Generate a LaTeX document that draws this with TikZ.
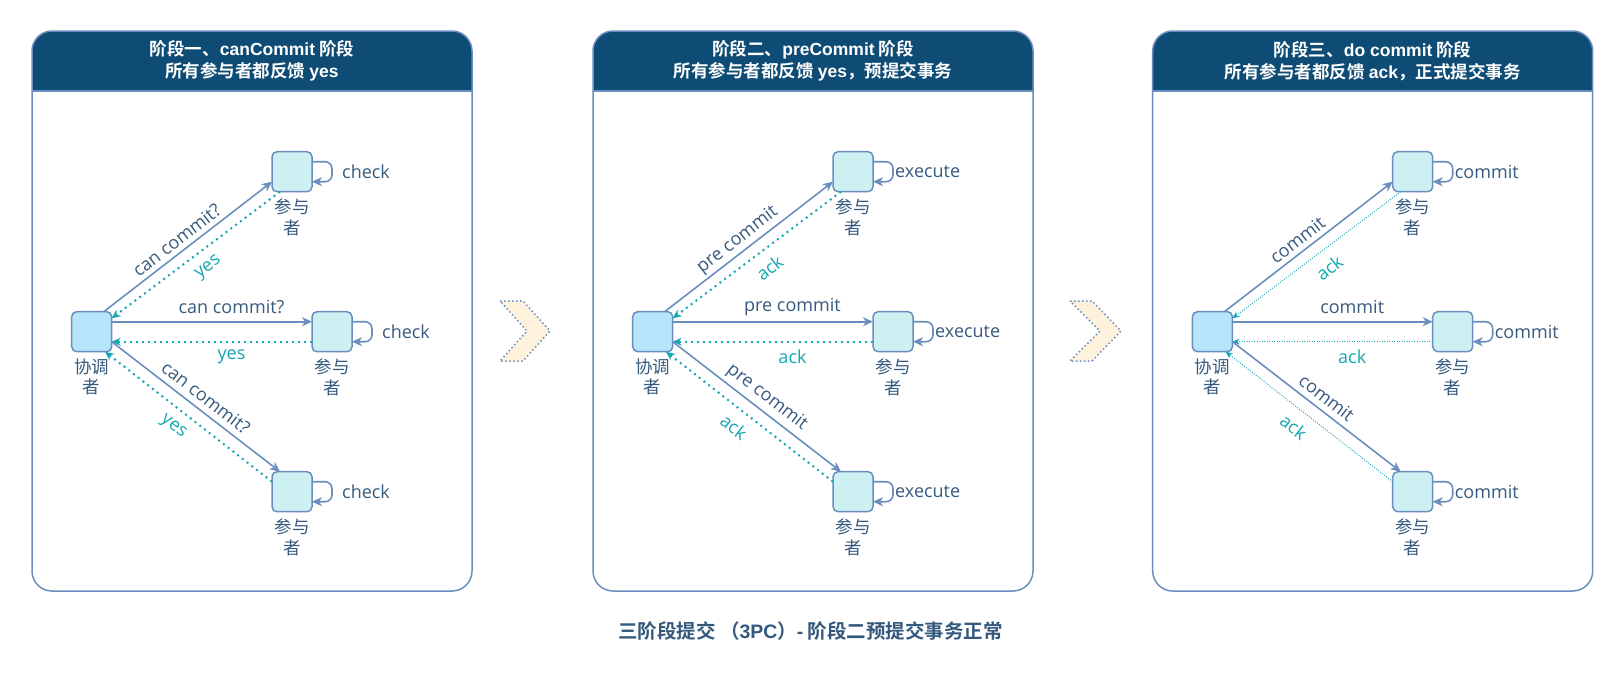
\documentclass[tikz,border=0pt]{standalone}
\usepackage{fontspec}
\setmainfont{Open Sans}
\newfontfamily\cjk{Noto Sans CJK SC}[BoldFont={Noto Sans CJK SC Bold}]
\newfontfamily\arialf{Liberation Sans}
\usetikzlibrary{arrows.meta,calc}
\definecolor{hdr}{HTML}{0F4C75}
\definecolor{edgec}{HTML}{6C8EBF}
\definecolor{ackc}{HTML}{12A7B2}
\definecolor{lblc}{HTML}{375A7F}
\definecolor{cfill}{HTML}{B5E4FB}
\definecolor{pfill}{HTML}{CDF0F3}
\definecolor{chevc}{HTML}{FFF2DC}
\definecolor{capc}{HTML}{34597C}
\newcommand\lat[1]{{\arialf\bfseries #1}}
\tikzset{
  coordbox/.style={draw=edgec, fill=cfill, line width=1.5pt, rounded corners=5pt, minimum size=40pt, inner sep=0pt, outer sep=0pt},
  partbox/.style={draw=edgec, fill=pfill, line width=1.5pt, rounded corners=5pt, minimum size=40pt, inner sep=0pt, outer sep=0pt},
  fwd/.style={draw=edgec, line width=1.6pt, -{Stealth[length=10pt,width=9pt,inset=3pt]}},
  backthick/.style={draw=ackc, line width=2pt, dash pattern=on 2pt off 4pt, -{Stealth[length=9pt,width=8pt,inset=3pt]}},
  backthin/.style={draw=ackc, line width=0.9pt, dash pattern=on 1pt off 1.5pt, -{Stealth[length=7pt,width=6pt,inset=2pt]}},
  lbl/.style={text=lblc, font=\fontsize{18}{20}\selectfont, inner sep=0pt},
  acklbl/.style={text=ackc, font=\fontsize{18}{20}\selectfont, inner sep=0pt},
  cjklbl/.style={text=lblc, font=\cjk\fontsize{17.5}{20.5}\selectfont, align=center, inner sep=0pt},
  titletext/.style={text=white, font=\cjk\bfseries\fontsize{17.5}{22}\selectfont, align=center, inner sep=0pt},
  chevron/.style={draw=edgec, fill=chevc, line width=1.5pt, dash pattern=on 1.5pt off 2.5pt},
}
% #1 prefix, #2 xshift, #3 title1, #4 title2, #5 forward label, #6 back label, #7 loop label, #8 loop text gap, #9 back style
\newcommand\phasepanel[9]{%
\begin{scope}[xshift=#2]
  \begin{scope}
    \clip[rounded corners=20pt] (32,31) rectangle (472,591);
    \fill[hdr] (32,31) rectangle (472,91);
  \end{scope}
  \draw[edgec, line width=1.5pt, rounded corners=20pt] (32,31) rectangle (472,591);
  \draw[edgec, line width=1.5pt] (32,91) -- (472,91);
  \node[titletext] (#1title) at (252,61.2) {#3\\#4};
  \node[coordbox] (#1c) at (91.7,331.7) {};
  \node[partbox] (#1pa) at (292,171.7) {};
  \node[partbox] (#1pb) at (332,331.7) {};
  \node[partbox] (#1pc) at (292,491.7) {};
  \node[cjklbl] (#1cl) at ($(#1c.south)+(0,25)$) {协调\\者};
  \node[cjklbl] (#1pal) at ($(#1pa.south)+(0,25.5)$) {参与\\者};
  \node[cjklbl] (#1pbl) at ($(#1pb.south)+(0,25.5)$) {参与\\者};
  \node[cjklbl] (#1pcl) at ($(#1pc.south)+(0,25.5)$) {参与\\者};
  % top
  \draw[fwd] ($(#1c.north east)+(-8,0)$) -- ($(#1pa.west)+(0,10)$);
  \draw[#9] ($(#1pa.south west)+(8,0)$) -- ($(#1c.east)+(0,-13.4)$);
  % middle
  \draw[fwd] ($(#1c.east)+(0,-10)$) -- ($(#1pb.west)+(0,-10)$);
  \draw[#9] ($(#1pb.west)+(0,10)$) -- ($(#1c.east)+(0,10)$);
  % bottom
  \draw[fwd] ($(#1c.east)+(0,10)$) -- ($(#1pc.north west)+(8,0)$);
  \draw[#9] ($(#1pc.west)+(0,-10)$) -- ($(#1c.south)+(13.3,0)$);
  % labels
  \node[lbl, rotate=37.7] (#1la) at (176.7,240) {#5};
  \node[acklbl, rotate=37.7] (#1lba) at (208.7,268) {#6};
  \node[lbl] (#1lb) at (231.5,306.7) {#5};
  \node[acklbl] (#1lbb) at (231.5,356.7) {#6};
  \node[lbl, rotate=-37.7] (#1lc) at (206,397.5) {#5};
  \node[acklbl, rotate=-37.7] (#1lbc) at (173,427) {#6};
  % loops
  \foreach \p in {pa,pb,pc}{
    \draw[fwd, rounded corners=7pt] ($(#1\p.north east)+(0,10)$) -- ++(20,0) -- ++(0,20) -- ($(#1\p.north east)+(0,30)$);
    \node[lbl, anchor=west] (#1\p loop) at ($(#1\p.east)+(#8,0)$) {#7};
  }
\end{scope}}
\begin{document}
\begin{tikzpicture}[x=1pt,y=-1pt]
\useasboundingbox[fill=white] (0,0) rectangle (1622,681);
\phasepanel{a}{0pt}{阶段一、\lat{canCommit} 阶段}{所有参与者都反馈 \lat{yes}}{can commit?}{yes}{check}{30}{backthick}
\phasepanel{b}{561pt}{阶段二、\lat{preCommit} 阶段}{所有参与者都反馈 \lat{yes}，预提交事务}{pre commit}{ack}{execute}{22}{backthick}
\phasepanel{c}{1120.7pt}{阶段三、\lat{do commit} 阶段}{所有参与者都反馈 \lat{ack}，正式提交事务}{commit}{ack}{commit}{22}{backthin}
\draw[chevron] (500,301) -- (523,301) -- (550,331) -- (523,361) -- (500,361) -- (527,331) -- cycle;
\draw[chevron] (1070,301) -- (1092,301) -- (1121,331) -- (1092,361) -- (1070,361) -- (1100,331) -- cycle;
\node[text=capc, font=\cjk\bfseries\fontsize{19.5}{22}\selectfont, inner sep=0pt] (caption) at (810.5,631.5) {三阶段提交 （\lat{3PC}）\lat{-} 阶段二预提交事务正常};
\end{tikzpicture}
\end{document}
